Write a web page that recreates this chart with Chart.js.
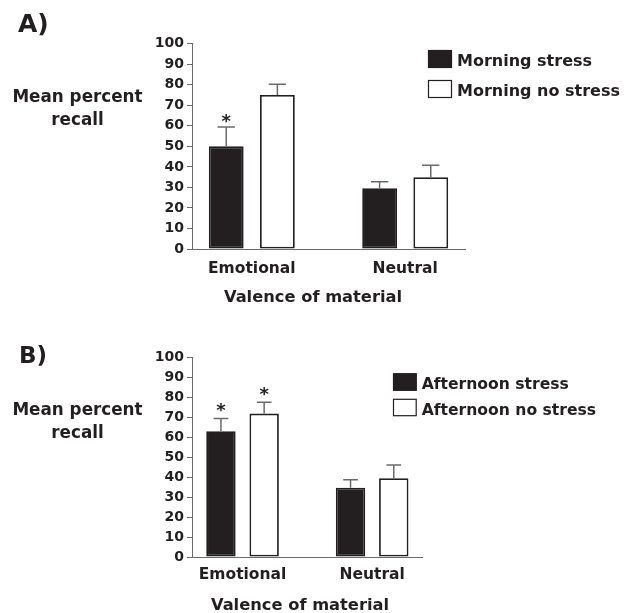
<!DOCTYPE html>
<html>
<head>
<meta charset="utf-8">
<script src="https://cdn.jsdelivr.net/npm/chart.js@4.4.1/dist/chart.umd.min.js"></script>
<style>
  html, body { margin: 0; padding: 0; background: #fff; }
  .panel { position: absolute; left: 0; width: 631px; }
  #wrapA { top: 0; height: 306px; }
  #wrapB { top: 306px; height: 307px; }
</style>
</head>
<body>
<div class="panel" id="wrapA"><canvas id="chartA"></canvas></div>
<div class="panel" id="wrapB"><canvas id="chartB"></canvas></div>
<script>
// data
const categories = ['Emotional', 'Neutral'];
const yTickStep = 10;
const yMax = 100;

const morningStress = [50, 29.6];
const morningStressErr = [9.4, 3.2];
const morningStressStar = [true, false];
const morningNoStress = [75, 35];
const morningNoStressErr = [5.3, 5.8];
const morningNoStressStar = [false, false];

const afternoonStress = [63, 34.7];
const afternoonStressErr = [6.3, 4.0];
const afternoonStressStar = [true, false];
const afternoonNoStress = [71.8, 39.4];
const afternoonNoStressErr = [5.7, 6.7];
const afternoonNoStressStar = [true, false];

const INK = '#231f20';
const AXIS = '#6a6a6a';
const FONT = '"DejaVu Sans", sans-serif';

Chart.defaults.font.family = FONT;
Chart.defaults.font.weight = 'bold';
Chart.defaults.color = INK;

/* error bars, asterisks, legend and free text */
const decorPlugin = {
  id: 'decor',
  afterDatasetsDraw: function (chart) {
    const ctx = chart.ctx;
    const yScale = chart.scales.y;
    const opts = chart.options.plugins.decor;

    chart.data.datasets.forEach(function (ds, di) {
      const meta = chart.getDatasetMeta(di);
      meta.data.forEach(function (bar, i) {
        const top = yScale.getPixelForValue(ds.data[i].y + ds.errors[i]);
        const half = bar.width * 0.25;
        ctx.save();
        ctx.strokeStyle = AXIS;
        ctx.lineWidth = 1.5;
        ctx.beginPath();
        ctx.moveTo(bar.x, bar.y);
        ctx.lineTo(bar.x, top);
        ctx.moveTo(bar.x - half, top);
        ctx.lineTo(bar.x + half, top);
        ctx.stroke();
        if (ds.stars[i]) {
          ctx.fillStyle = INK;
          ctx.font = 'bold ' + opts.starSize + 'px ' + FONT;
          ctx.textAlign = 'center';
          ctx.textBaseline = 'alphabetic';
          ctx.fillText('*', bar.x, top + opts.starDrop);
        }
        ctx.restore();
      });
    });
  },
  afterDraw: function (chart) {
    const ctx = chart.ctx;
    const opts = chart.options.plugins.decor;
    ctx.save();
    ctx.fillStyle = INK;
    ctx.textBaseline = 'alphabetic';

    // panel letter
    ctx.textAlign = 'left';
    ctx.font = 'bold ' + opts.panel.size + 'px ' + FONT;
    ctx.fillText(opts.panel.text, opts.panel.x, opts.panel.y);

    // y title, horizontal, two lines
    ctx.textAlign = 'center';
    ctx.font = 'bold 16.8px ' + FONT;
    opts.yTitle.lines.forEach(function (line, i) {
      ctx.fillText(line, opts.yTitle.x, opts.yTitle.y + i * 23);
    });

    // x title
    ctx.font = 'bold 16.3px ' + FONT;
    ctx.fillText(opts.xTitle.text, opts.xTitle.x, opts.xTitle.y);

    // legend
    const lg = opts.legend;
    ctx.textAlign = 'left';
    ctx.font = 'bold ' + lg.size + 'px ' + FONT;
    chart.data.datasets.forEach(function (ds, i) {
      const by = lg.y + i * lg.step;
      ctx.fillStyle = ds.backgroundColor;
      ctx.fillRect(lg.x, by, lg.w, lg.h);
      ctx.strokeStyle = INK;
      ctx.lineWidth = 1.2;
      ctx.strokeRect(lg.x + 0.5, by + 0.5, lg.w - 1, lg.h - 1);
      ctx.fillStyle = INK;
      ctx.fillText(ds.label, lg.x + lg.w + 5, by + lg.textDrop);
    });
    ctx.restore();
  }
};

function makeSeries(label, values, errors, stars, fill) {
  return {
    label: label,
    data: categories.map(function (c, i) { return { x: i, y: values[i] }; }),
    errors: errors,
    stars: stars,
    backgroundColor: fill,
    borderColor: INK,
    borderWidth: 1.8,
    borderSkipped: false,
    categoryPercentage: 0.667,
    barPercentage: 0.68
  };
}

function makeChart(canvasId, datasets, layout, decor) {
  const ctx = document.getElementById(canvasId).getContext('2d');
  return new Chart(ctx, {
    type: 'bar',
    data: { datasets: datasets },
    options: {
      responsive: true,
      maintainAspectRatio: false,
      animation: false,
      devicePixelRatio: 1,
      layout: { padding: { top: layout.top, right: layout.right, left: 0, bottom: 0 } },
      plugins: {
        legend: { display: false },
        tooltip: { enabled: false },
        decor: decor
      },
      scales: {
        x: {
          type: 'linear',
          min: -0.39,
          max: 1.39,
          offset: false,
          afterBuildTicks: function (scale) {
            scale.ticks = categories.map(function (c, i) { return { value: i }; });
          },
          afterFit: function (scale) { scale.height = layout.xHeight; },
          ticks: {
            callback: function (v) { return categories[v]; },
            font: { size: 15.5, weight: 'bold' },
            padding: layout.labelPad,
            maxRotation: 0
          },
          grid: { display: false, offset: false },
          border: { display: true, color: AXIS, width: 1 }
        },
        y: {
          min: 0,
          max: yMax,
          afterFit: function (scale) { scale.width = 192; },
          ticks: {
            stepSize: yTickStep,
            font: { size: 14, weight: 'bold' },
            padding: 3
          },
          grid: { drawOnChartArea: false, drawTicks: true, tickLength: 5, color: AXIS },
          border: { display: true, color: AXIS, width: 1 }
        }
      }
    },
    plugins: [decorPlugin]
  });
}

makeChart('chartA', [
  makeSeries('Morning stress', morningStress, morningStressErr, morningStressStar, INK),
  makeSeries('Morning no stress', morningNoStress, morningNoStressErr, morningNoStressStar, '#ffffff')
], { top: 43.7, right: 166, xHeight: 57, labelPad: 2.5 }, {
  starSize: 18, starDrop: 0,
  panel: { text: 'A)', x: 18, y: 31.7, size: 25 },
  yTitle: { lines: ['Mean percent', 'recall'], x: 77.5, y: 102 },
  xTitle: { text: 'Valence of material', x: 313, y: 302 },
  legend: { x: 428, y: 50, w: 24, h: 18, step: 30, size: 16, textDrop: 16 }
});

makeChart('chartB', [
  makeSeries('Afternoon stress', afternoonStress, afternoonStressErr, afternoonStressStar, INK),
  makeSeries('Afternoon no stress', afternoonNoStress, afternoonNoStressErr, afternoonNoStressStar, '#ffffff')
], { top: 51.3, right: 208.3, xHeight: 56, labelPad: 0.5 }, {
  starSize: 18, starDrop: -2.3,
  panel: { text: 'B)', x: 19, y: 56.7, size: 23 },
  yTitle: { lines: ['Mean percent', 'recall'], x: 77.5, y: 109 },
  xTitle: { text: 'Valence of material', x: 300, y: 303.7 },
  legend: { x: 393, y: 67.3, w: 23.7, h: 17.4, step: 25.5, size: 15.6, textDrop: 16 }
});
</script>
</body>
</html>
